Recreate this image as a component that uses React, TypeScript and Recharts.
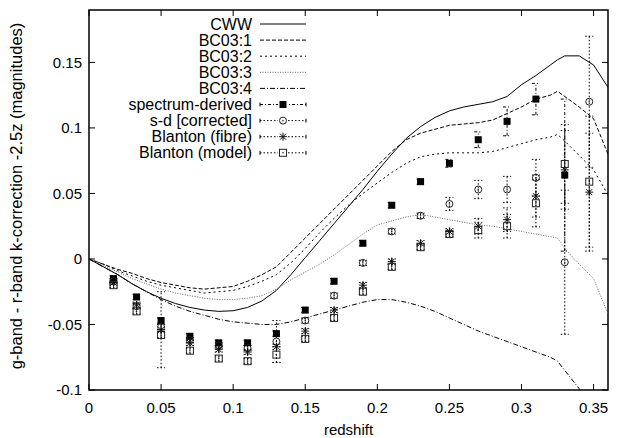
import React from 'react';
import { ComposedChart, Line, Scatter, XAxis, YAxis, ErrorBar, ReferenceArea, Label } from 'recharts';

const W = 617;
const H = 438;
const MARGIN = { top: 10, right: 9, bottom: 18, left: 0 };
const Y_AXIS_W = 89;
const X_AXIS_H = 30;
const PLOT_LEFT = MARGIN.left + Y_AXIS_W;
const PLOT_RIGHT = W - MARGIN.right;
const PLOT_TOP = MARGIN.top;
const PLOT_BOTTOM = H - MARGIN.bottom - X_AXIS_H;
const TICK = 6;
const FONT = '"Liberation Sans", Arial, Helvetica, sans-serif';
const FS = 15;
const KEY_FS = 16;
const YTITLE_FS = 16.5;

const xTicks = [0, 0.05, 0.1, 0.15, 0.2, 0.25, 0.3, 0.35];
const yTicks = [-0.1, -0.05, 0, 0.05, 0.1, 0.15];

// model k-correction curves
const modelZ = [0, 0.01, 0.02, 0.03, 0.04, 0.05, 0.06, 0.07, 0.08, 0.09, 0.1, 0.11, 0.12, 0.13, 0.14, 0.15, 0.16, 0.17, 0.18, 0.19, 0.2, 0.21, 0.22, 0.23, 0.24, 0.25, 0.26, 0.27, 0.28, 0.29, 0.3, 0.31, 0.32, 0.325, 0.33, 0.34, 0.35, 0.36];
const cww = [0, -0.006, -0.012, -0.019, -0.025, -0.03, -0.034, -0.037, -0.039, -0.04, -0.0395, -0.037, -0.032, -0.024, -0.012, 0.001, 0.014, 0.027, 0.04, 0.053, 0.067, 0.08, 0.092, 0.101, 0.108, 0.113, 0.116, 0.118, 0.12, 0.124, 0.133, 0.14, 0.148, 0.152, 0.155, 0.155, 0.148, 0.131];
const bc03a = [0, -0.004, -0.008, -0.011, -0.015, -0.018, -0.02, -0.022, -0.023, -0.022, -0.021, -0.017, -0.012, -0.006, 0.005, 0.016, 0.027, 0.038, 0.049, 0.06, 0.071, 0.082, 0.091, 0.096, 0.099, 0.102, 0.103, 0.104, 0.106, 0.111, 0.116, 0.122, 0.125, 0.128, 0.124, 0.116, 0.107, 0.08];
const bc03b = [0, -0.004, -0.009, -0.013, -0.017, -0.02, -0.022, -0.024, -0.026, -0.025, -0.024, -0.021, -0.017, -0.012, -0.003, 0.008, 0.02, 0.031, 0.041, 0.05, 0.058, 0.066, 0.073, 0.078, 0.08, 0.081, 0.081, 0.081, 0.082, 0.085, 0.088, 0.091, 0.093, 0.095, 0.09, 0.079, 0.068, 0.049];
const bc03c = [0, -0.005, -0.01, -0.015, -0.019, -0.023, -0.026, -0.028, -0.03, -0.031, -0.031, -0.03, -0.028, -0.023, -0.016, -0.01, -0.004, 0.003, 0.011, 0.019, 0.026, 0.029, 0.032, 0.034, 0.032, 0.03, 0.028, 0.026, 0.025, 0.023, 0.021, 0.019, 0.017, 0.016, 0.008, -0.004, -0.015, -0.042];
const bc03d = [0, -0.006, -0.012, -0.019, -0.025, -0.031, -0.036, -0.04, -0.043, -0.046, -0.048, -0.049, -0.05, -0.05, -0.048, -0.045, -0.042, -0.039, -0.036, -0.033, -0.031, -0.031, -0.033, -0.036, -0.04, -0.045, -0.05, -0.055, -0.059, -0.063, -0.067, -0.071, -0.075, -0.078, -0.085, -0.099, -0.113, -0.127];

// measured points (redshift bins)
const binZ = [0.017, 0.033, 0.05, 0.07, 0.09, 0.11, 0.13, 0.15, 0.17, 0.19, 0.21, 0.23, 0.25, 0.27, 0.29, 0.31, 0.33, 0.347];
const specVal = [-0.015, -0.029, -0.047, -0.059, -0.064, -0.064, -0.057, -0.039, -0.017, 0.012, 0.041, 0.059, 0.073, 0.091, 0.105, 0.122, 0.064];
const specErr = [0.002, 0.002, 0.002, 0.002, 0.002, 0.002, 0.002, 0.002, 0.002, 0.002, 0.002, 0.002, 0.003, 0.006, 0.011, 0.012, 0.058];
const sdVal = [-0.017, -0.036, -0.052, -0.062, -0.066, -0.068, -0.063, -0.047, -0.028, -0.003, 0.021, 0.033, 0.042, 0.053, 0.053, 0.062, -0.0025, 0.12];
const sdErr = [0.002, 0.002, 0.002, 0.002, 0.002, 0.002, 0.016, 0.002, 0.002, 0.002, 0.002, 0.002, 0.005, 0.007, 0.01, 0.014, 0.055, 0.05];
const fibreVal = [-0.018, -0.035, -0.054, -0.064, -0.069, -0.071, -0.067, -0.055, -0.039, -0.02, -0.002, 0.012, 0.021, 0.025, 0.03, 0.048, 0.068, 0.051];
const fibreErr = [0.002, 0.002, 0.029, 0.002, 0.002, 0.002, 0.002, 0.002, 0.002, 0.002, 0.002, 0.002, 0.002, 0.006, 0.009, 0.016, 0.03, 0.045];
const modelVal = [-0.02, -0.04, -0.058, -0.07, -0.076, -0.078, -0.073, -0.061, -0.045, -0.025, -0.006, 0.009, 0.019, 0.022, 0.025, 0.0425, 0.0725, 0.059];
const modelErr = [0.002, 0.002, 0.002, 0.002, 0.002, 0.002, 0.006, 0.002, 0.002, 0.002, 0.002, 0.002, 0.002, 0.006, 0.009, 0.018, 0.03, 0.05];

const toPoints = (zs: number[], vs: number[], es?: number[]) =>
  vs.map((v, i) => ({ z: zs[i], v, e: es ? es[i] : 0 }));

const curves = [
  { name: 'CWW', vals: cww, dash: undefined, color: '#000', width: 1 },
  { name: 'BC03:1', vals: bc03a, dash: '4 2', color: '#000', width: 1 },
  { name: 'BC03:2', vals: bc03b, dash: '2 3', color: '#000', width: 1 },
  { name: 'BC03:3', vals: bc03c, dash: '1 1.5', color: '#666', width: 1 },
  { name: 'BC03:4', vals: bc03d, dash: '5 2 1 2', color: '#000', width: 1 },
];

const FilledSquare = ({ cx, cy }: any) => <rect x={cx - 3.5} y={cy - 3.5} width={7} height={7} fill="#000" />;
const DotCircle = ({ cx, cy }: any) => (
  <g>
    <circle cx={cx} cy={cy} r={3.5} fill="none" stroke="#222" />
    <circle cx={cx} cy={cy} r={0.8} fill="#222" />
  </g>
);
const Asterisk = ({ cx, cy }: any) => (
  <g stroke="#111" strokeWidth={1}>
    <line x1={cx - 4} y1={cy} x2={cx + 4} y2={cy} />
    <line x1={cx} y1={cy - 4} x2={cx} y2={cy + 4} />
    <line x1={cx - 3} y1={cy - 3} x2={cx + 3} y2={cy + 3} />
    <line x1={cx - 3} y1={cy + 3} x2={cx + 3} y2={cy - 3} />
  </g>
);
const DotSquare = ({ cx, cy }: any) => (
  <g>
    <rect x={cx - 3.5} y={cy - 3.5} width={7} height={7} fill="none" stroke="#222" />
    <circle cx={cx} cy={cy} r={0.8} fill="#222" />
  </g>
);

const points = [
  { name: 'spectrum-derived', vals: specVal, errs: specErr, Shape: FilledSquare, dash: '3 2 1 2' },
  { name: 's-d [corrected]', vals: sdVal, errs: sdErr, Shape: DotCircle, dash: '1.5 2' },
  { name: 'Blanton (fibre)', vals: fibreVal, errs: fibreErr, Shape: Asterisk, dash: '1.5 2' },
  { name: 'Blanton (model)', vals: modelVal, errs: modelErr, Shape: DotSquare, dash: '1.5 2' },
];

const XTick = ({ x, y, payload }: any) => (
  <g>
    <line x1={x} x2={x} y1={PLOT_BOTTOM} y2={PLOT_BOTTOM - TICK} stroke="#000" />
    <line x1={x} x2={x} y1={PLOT_TOP} y2={PLOT_TOP + TICK} stroke="#000" />
    <text x={x} y={y} dy="0.71em" textAnchor="middle" fontSize={FS} fontFamily={FONT} fill="#000">
      {payload.value}
    </text>
  </g>
);

const YTick = ({ x, y, payload }: any) => (
  <g>
    <line x1={PLOT_LEFT} x2={PLOT_LEFT + TICK} y1={y} y2={y} stroke="#000" />
    <line x1={PLOT_RIGHT} x2={PLOT_RIGHT - TICK} y1={y} y2={y} stroke="#000" />
    <text x={x} y={y} dy="0.355em" textAnchor="end" fontSize={FS} fontFamily={FONT} fill="#000">
      {payload.value}
    </text>
  </g>
);

const YTitle = ({ viewBox }: any) => {
  const cx = 16;
  const cy = viewBox.y + viewBox.height / 2 - 4;
  return (
    <text x={cx} y={cy} transform={`rotate(-90 ${cx} ${cy})`} textAnchor="middle" dominantBaseline="central"
      fontSize={YTITLE_FS} fontFamily={FONT} fill="#000">
      g-band - r-band k-correction -2.5z (magnitudes)
    </text>
  );
};

const LEG_TEXT_X = 252;
const LEG_X1 = 260;
const LEG_X2 = 306;
const LEG_Y0 = 24;
const LEG_DY = 16.1;

function KeyBox() {
  const rows = [...curves.map((c) => c.name), ...points.map((p) => p.name)];
  return (
    <svg width={W} height={H} style={{ position: 'absolute', left: 0, top: 0, pointerEvents: 'none' }}>
      {rows.map((name, i) => {
        const y = LEG_Y0 + i * LEG_DY;
        const c = curves.find((k) => k.name === name);
        const p = points.find((k) => k.name === name);
        const mid = (LEG_X1 + LEG_X2) / 2;
        return (
          <g key={name}>
            <text x={LEG_TEXT_X} y={y} dominantBaseline="central" textAnchor="end" fontSize={KEY_FS} fontFamily={FONT} fill="#000">
              {name}
            </text>
            {c && <line x1={LEG_X1} x2={LEG_X2} y1={y} y2={y} stroke={c.color} strokeWidth={c.width} strokeDasharray={c.dash} />}
            {p && (
              <g>
                <line x1={LEG_X1} x2={LEG_X2} y1={y} y2={y} stroke="#000" strokeDasharray={p.dash} />
                <line x1={LEG_X1} x2={LEG_X1} y1={y - 2} y2={y + 2} stroke="#000" />
                <line x1={LEG_X2} x2={LEG_X2} y1={y - 2} y2={y + 2} stroke="#000" />
                <rect x={mid - 5} y={y - 4.5} width={10} height={9} fill="#fff" />
                <p.Shape cx={mid} cy={y} />
              </g>
            )}
          </g>
        );
      })}
    </svg>
  );
}

export default function App() {
  return (
    <div style={{ position: 'absolute', left: 0, top: 0, width: W, height: H, background: '#fff' }}>
      <ComposedChart width={W} height={H} margin={MARGIN}>
        <XAxis
          type="number"
          dataKey="z"
          domain={[0, 0.36]}
          ticks={xTicks}
          tick={<XTick />}
          tickLine={false}
          axisLine={false}
          tickSize={6}
          tickMargin={6}
          height={X_AXIS_H}
          allowDataOverflow
        >
          <Label value="redshift" position="bottom" offset={4} fontSize={FS} fontFamily={FONT} fill="#000" />
        </XAxis>
        <YAxis
          type="number"
          dataKey="v"
          domain={[-0.1, 0.19]}
          ticks={yTicks}
          tick={<YTick />}
          tickLine={false}
          axisLine={false}
          tickSize={6}
          tickMargin={1}
          width={Y_AXIS_W}
          allowDataOverflow
        >
          <Label content={<YTitle />} />
        </YAxis>
        {curves.map((c) => (
          <Line
            key={c.name}
            name={c.name}
            data={toPoints(modelZ, c.vals)}
            dataKey="v"
            type="linear"
            stroke={c.color}
            strokeWidth={c.width}
            strokeDasharray={c.dash}
            dot={false}
            activeDot={false}
            isAnimationActive={false}
          />
        ))}
        {points.map((p) => (
          <Scatter
            key={p.name}
            name={p.name}
            data={toPoints(binZ, p.vals, p.errs)}
            dataKey="v"
            shape={(props: any) => <p.Shape cx={props.cx} cy={props.cy} />}
            isAnimationActive={false}
          >
            <ErrorBar dataKey="e" direction="y" width={4} stroke="#000" strokeWidth={1} strokeDasharray={p.dash} isAnimationActive={false} />
          </Scatter>
        ))}
        <ReferenceArea x1={0} x2={0.36} y1={-0.1} y2={0.19} fill="none" stroke="#000" strokeWidth={1.5} ifOverflow="visible" />
      </ComposedChart>
      <KeyBox />
    </div>
  );
}
